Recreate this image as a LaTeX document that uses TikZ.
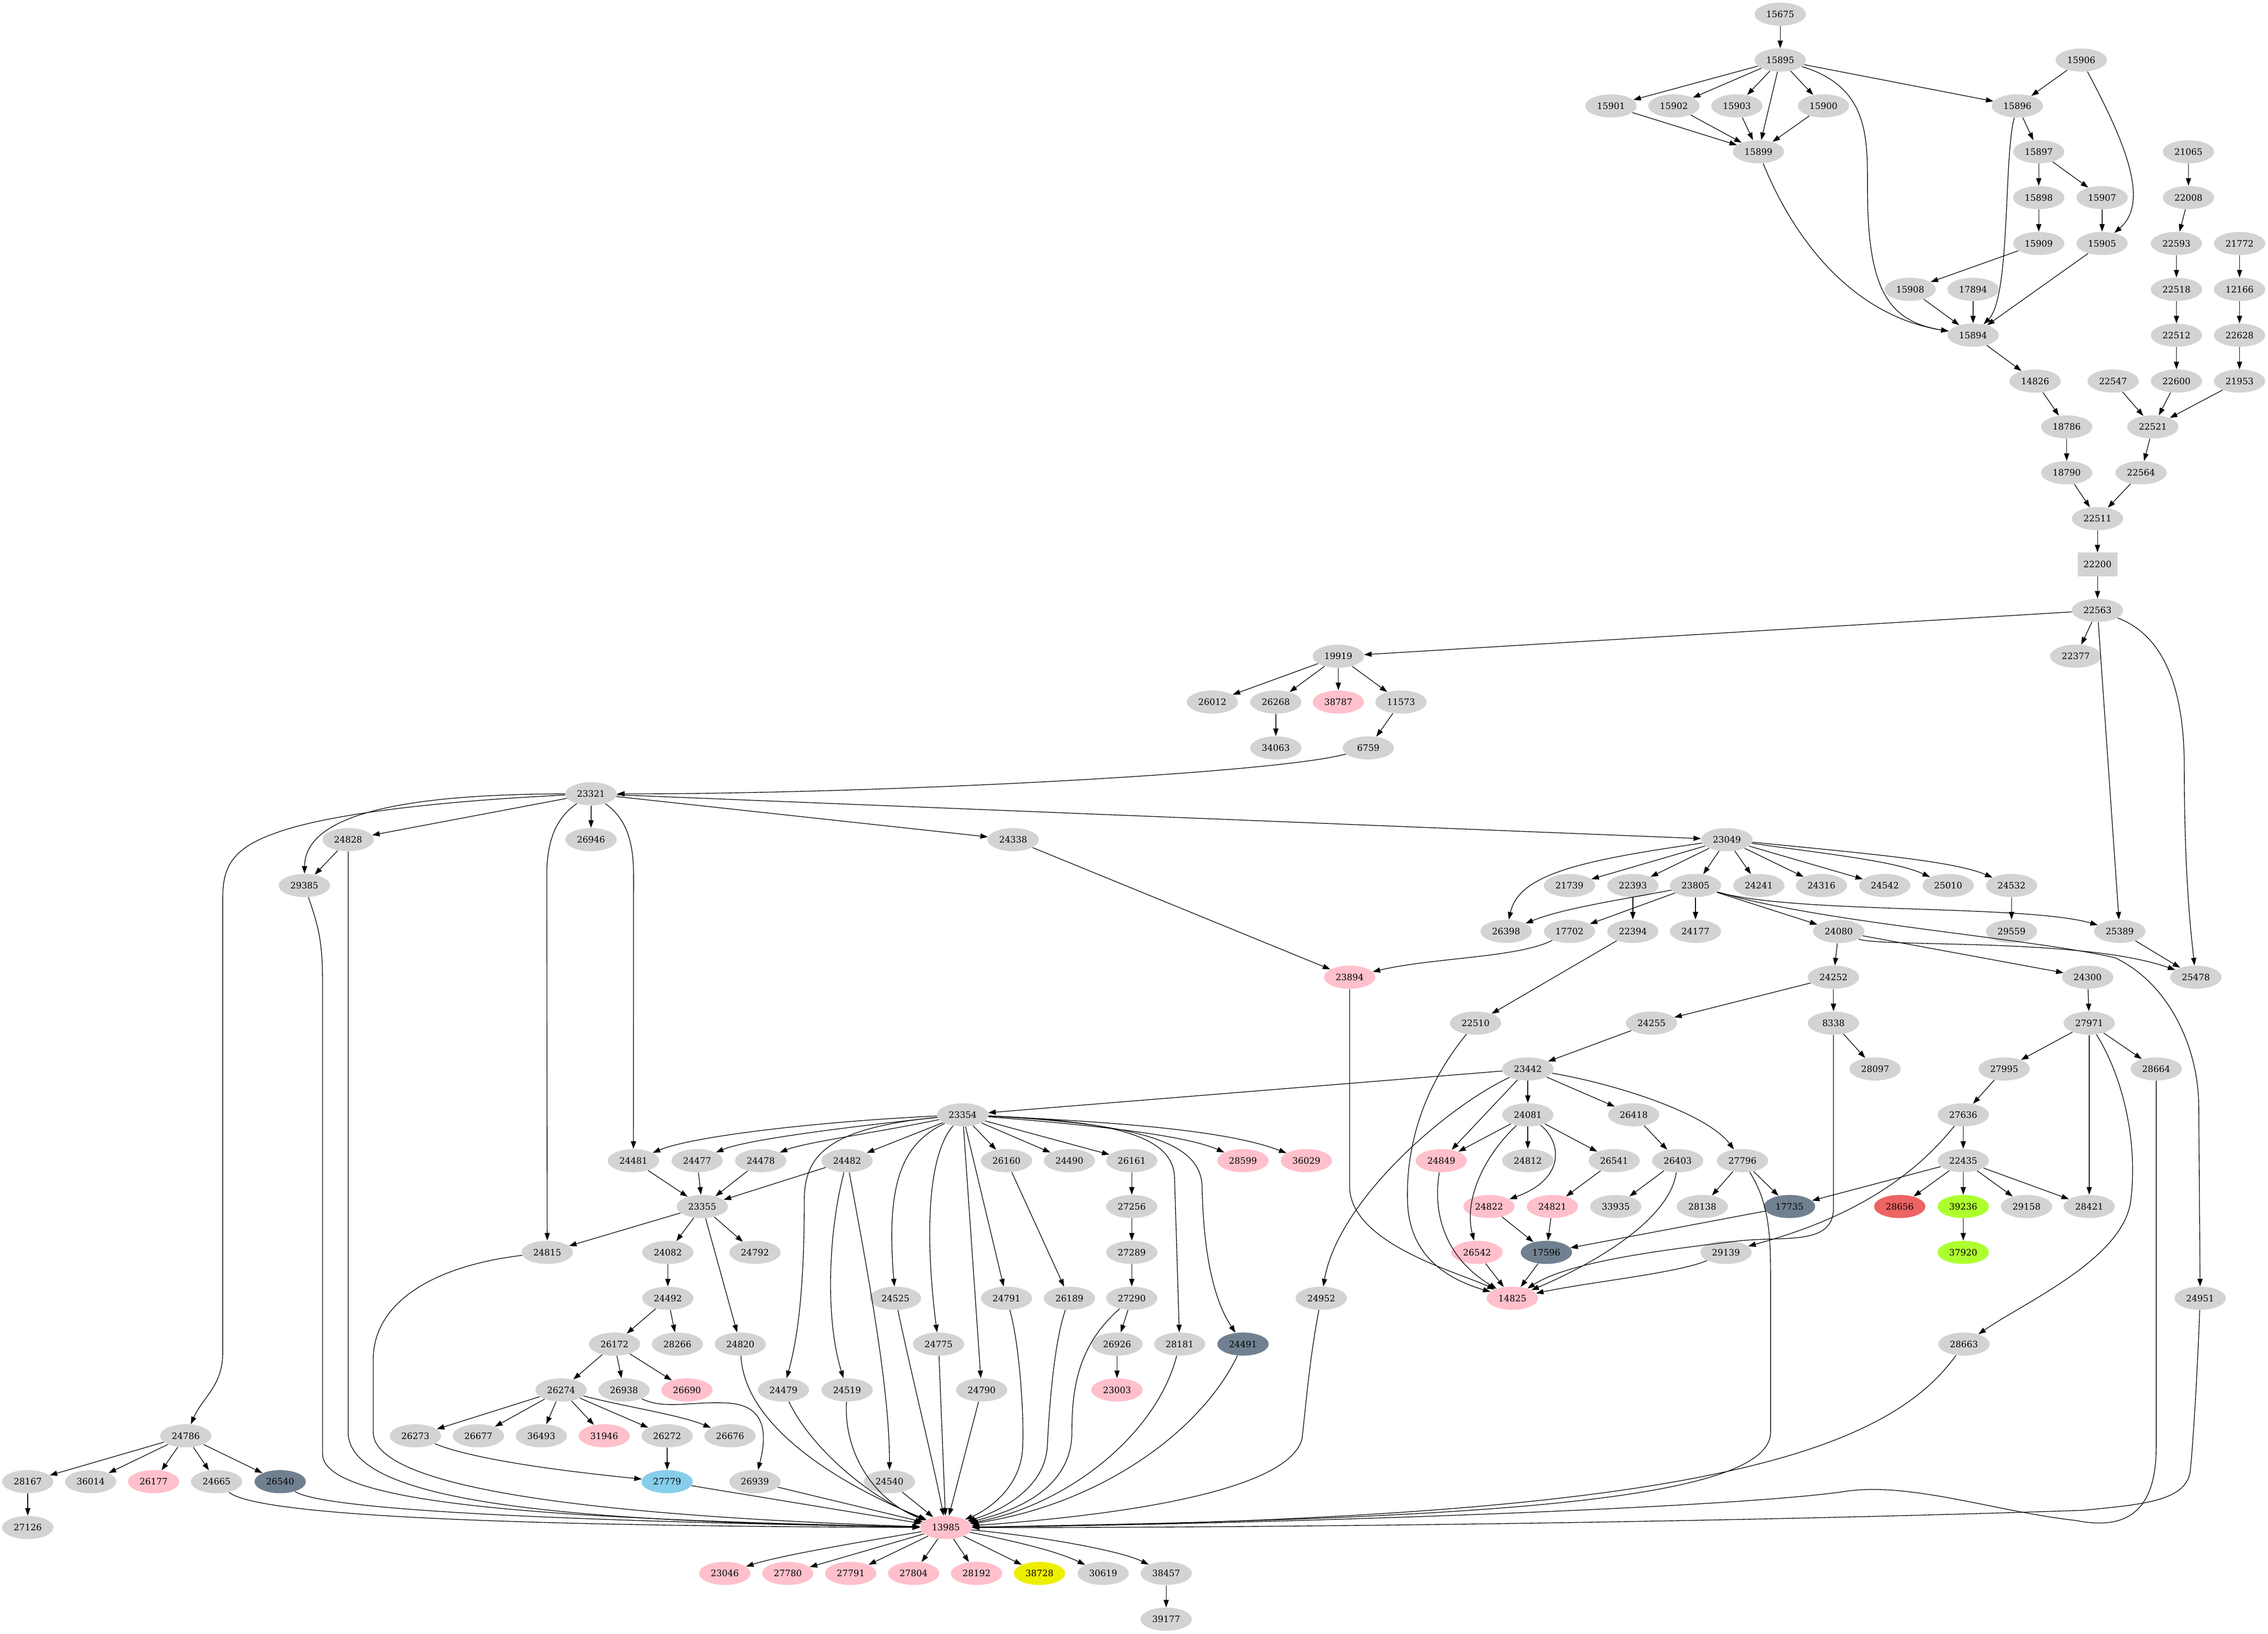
\documentclass[tikz,border=0pt]{standalone}
\usepackage{fontspec}
\setmainfont{DejaVu Serif}
\usetikzlibrary{shapes.geometric,arrows.meta}
\definecolor{gvgray}{HTML}{D3D3D3}
\definecolor{gvpink}{HTML}{FFC0CB}
\definecolor{gvslate}{HTML}{708090}
\definecolor{gvsky}{HTML}{87CEEB}
\definecolor{gvyellow}{HTML}{EEEE00}
\definecolor{gvgreen}{HTML}{ADFF2F}
\definecolor{gvred}{HTML}{EE6363}

\begin{document}
\begin{tikzpicture}[x = 1pt, y = -1pt,
  nd/.style = {ellipse, fill=gvgray, minimum width=35.5pt, minimum height=16pt, inner sep=0pt, font=\fontsize{6.1}{7}\selectfont},
  pk/.style = {nd, fill=gvpink},
  sl/.style = {nd, fill=gvslate},
  sk/.style = {nd, fill=gvsky},
  yl/.style = {nd, fill=gvyellow},
  gr/.style = {nd, fill=gvgreen},
  rd/.style = {nd, fill=gvred},
  bx/.style = {rectangle, fill=gvgray, minimum width=27.3pt, minimum height=16.3pt, inner sep=0pt, font=\fontsize{6.1}{7}\selectfont},
  ed/.style = {-{Triangle[length=5.2pt, width=3.6pt]}, line width=0.45pt}]
\fill[white] (0, 0) rectangle (1567.9, 1129.5);
% top chain
\node[nd] (n15675) at (1230.7, 9.8) {15675};
\node[nd] (n15895) at (1230.7, 41.5) {15895};
\node[nd] (n15906) at (1438.8, 41.5) {15906};
\node[nd] (n15901) at (1113.7, 73.2) {15901};
\node[nd] (n15902) at (1157.2, 73.2) {15902};
\node[nd] (n15903) at (1200.7, 73.2) {15903};
\node[nd] (n15900) at (1260.6, 73.2) {15900};
\node[nd] (n15896) at (1394.6, 73.2) {15896};
\node[nd] (n15899) at (1215.6, 104.9) {15899};
\node[nd] (n15897) at (1409.4, 104.9) {15897};
\node[nd] (n21065) at (1512.9, 104.9) {21065};
\node[nd] (n15898) at (1409.4, 136.6) {15898};
\node[nd] (n15907) at (1453.2, 136.6) {15907};
\node[nd] (n22008) at (1512.9, 136.6) {22008};
\node[nd] (n15909) at (1409.4, 168.3) {15909};
\node[nd] (n15905) at (1453.2, 168.3) {15905};
\node[nd] (n22593) at (1504.6, 168.3) {22593};
\node[nd] (n21772) at (1548.2, 168.3) {21772};
\node[nd] (n15908) at (1320.5, 200.0) {15908};
\node[nd] (n17894) at (1364.0, 200.0) {17894};
\node[nd] (n22518) at (1504.6, 200.0) {22518};
\node[nd] (n12166) at (1548.2, 200.0) {12166};
\node[nd] (n15894) at (1364.0, 231.7) {15894};
\node[nd] (n22512) at (1504.6, 231.7) {22512};
\node[nd] (n22628) at (1548.2, 231.7) {22628};
\node[nd] (n14826) at (1406.9, 263.4) {14826};
\node[nd] (n22547) at (1460.8, 263.4) {22547};
\node[nd] (n22600) at (1504.6, 263.4) {22600};
\node[nd] (n21953) at (1548.2, 263.4) {21953};
\node[nd] (n18786) at (1428.7, 295.1) {18786};
\node[nd] (n22521) at (1488.3, 295.1) {22521};
\node[nd] (n18790) at (1428.7, 326.8) {18790};
\node[nd] (n22564) at (1480.1, 326.8) {22564};
\node[nd] (n22511) at (1450.0, 358.5) {22511};
\node[bx] (n22200) at (1450.0, 390.2) {22200};
\node[nd] (n22563) at (1450.0, 421.9) {22563};
\node[nd] (n19919) at (925.2, 453.6) {19919};
\node[nd] (n22377) at (1435.0, 453.6) {22377};
\node[nd] (n26012) at (838.1, 485.3) {26012};
\node[nd] (n26268) at (882.0, 485.3) {26268};
\node[pk] (n38787) at (925.2, 485.3) {38787};
\node[nd] (n11573) at (968.5, 485.3) {11573};
\node[nd] (n34063) at (882.0, 517.0) {34063};
\node[nd] (n6759) at (945.9, 517.0) {6759};
% middle
\node[nd] (n23321) at (408.6, 548.7) {23321};
\node[nd] (n24828) at (240.7, 580.4) {24828};
\node[nd] (n26946) at (408.6, 580.4) {26946};
\node[nd] (n24338) at (700.4, 580.4) {24338};
\node[nd] (n23049) at (1193.8, 580.4) {23049};
\node[nd] (n29385) at (210.4, 612.1) {29385};
\node[nd] (n21739) at (1085.0, 612.1) {21739};
\node[nd] (n22393) at (1128.8, 612.1) {22393};
\node[nd] (n23805) at (1172.1, 612.1) {23805};
\node[nd] (n24241) at (1215.9, 612.1) {24241};
\node[nd] (n24316) at (1259.2, 612.1) {24316};
\node[nd] (n24542) at (1303.0, 612.1) {24542};
\node[nd] (n25010) at (1346.8, 612.1) {25010};
\node[nd] (n24532) at (1390.6, 612.1) {24532};
\node[nd] (n26398) at (1041.2, 643.8) {26398};
\node[nd] (n17702) at (1085.0, 643.8) {17702};
\node[nd] (n22394) at (1128.8, 643.8) {22394};
\node[nd] (n24177) at (1172.1, 643.8) {24177};
\node[nd] (n24080) at (1271.1, 643.8) {24080};
\node[nd] (n29559) at (1390.6, 643.8) {29559};
\node[nd] (n25389) at (1465.4, 643.8) {25389};
\node[pk] (n23894) at (933.0, 675.5) {23894};
\node[nd] (n24252) at (1267.5, 675.5) {24252};
\node[nd] (n24300) at (1443.2, 675.5) {24300};
\node[nd] (n25478) at (1518.0, 675.5) {25478};
\node[nd] (n22510) at (1020.1, 707.2) {22510};
\node[nd] (n24255) at (1141.7, 707.2) {24255};
\node[nd] (n8338) at (1267.5, 707.2) {8338};
\node[nd] (n27971) at (1444.3, 707.2) {27971};
\node[nd] (n23442) at (1056.2, 738.9) {23442};
\node[nd] (n28097) at (1296.3, 738.9) {28097};
\node[nd] (n27995) at (1385.5, 738.9) {27995};
\node[nd] (n28664) at (1490.6, 738.9) {28664};
\node[nd] (n23354) at (665.5, 770.6) {23354};
\node[nd] (n24081) at (1056.2, 770.6) {24081};
\node[nd] (n26418) at (1129.4, 770.6) {26418};
\node[nd] (n27636) at (1357.2, 770.6) {27636};
\node[nd] (n24481) at (437.9, 802.3) {24481};
\node[nd] (n24477) at (481.9, 802.3) {24477};
\node[nd] (n24478) at (525.9, 802.3) {24478};
\node[nd] (n24482) at (585.6, 802.3) {24482};
\node[nd] (n26160) at (695.8, 802.3) {26160};
\node[nd] (n24490) at (739.3, 802.3) {24490};
\node[nd] (n26161) at (782.4, 802.3) {26161};
\node[pk] (n28599) at (859.3, 802.3) {28599};
\node[pk] (n36029) at (903.1, 802.3) {36029};
\node[pk] (n24849) at (996.4, 802.3) {24849};
\node[nd] (n24812) at (1056.2, 802.3) {24812};
\node[nd] (n26541) at (1115.9, 802.3) {26541};
\node[nd] (n26403) at (1159.8, 802.3) {26403};
\node[nd] (n27796) at (1204.6, 802.3) {27796};
\node[nd] (n22435) at (1357.2, 802.3) {22435};
\node[nd] (n23355) at (485.5, 834.0) {23355};
\node[nd] (n27256) at (782.4, 834.0) {27256};
\node[pk] (n24822) at (1029.4, 834.0) {24822};
\node[pk] (n24821) at (1073.2, 834.0) {24821};
\node[nd] (n33935) at (1117.0, 834.0) {33935};
\node[nd] (n28138) at (1176.8, 834.0) {28138};
\node[sl] (n17735) at (1237.1, 834.0) {17735};
\node[rd] (n28656) at (1313.3, 834.0) {28656};
\node[gr] (n39236) at (1357.2, 834.0) {39236};
\node[nd] (n29158) at (1401.0, 834.0) {29158};
\node[nd] (n28421) at (1444.3, 834.0) {28421};
\node[nd] (n24815) at (378.3, 865.7) {24815};
\node[nd] (n24082) at (461.7, 865.7) {24082};
\node[nd] (n24792) at (521.9, 865.7) {24792};
\node[nd] (n27289) at (782.4, 865.7) {27289};
\node[pk] (n26542) at (1021.1, 865.7) {26542};
\node[sl] (n17596) at (1069.0, 865.7) {17596};
\node[nd] (n29139) at (1193.2, 865.7) {29139};
\node[gr] (n37920) at (1357.2, 865.7) {37920};
% lower part
\node[nd] (n24492) at (461.7, 897.4) {24492};
\node[nd] (n24525) at (619.0, 897.4) {24525};
\node[nd] (n24791) at (695.8, 897.4) {24791};
\node[nd] (n26189) at (739.3, 897.4) {26189};
\node[nd] (n27290) at (782.4, 897.4) {27290};
\node[nd] (n24952) at (913.4, 897.4) {24952};
\node[pk] (n14825) at (1045.5, 897.4) {14825};
\node[nd] (n24951) at (1521.0, 897.4) {24951};
\node[nd] (n26172) at (424.8, 929.1) {26172};
\node[nd] (n28266) at (468.3, 929.1) {28266};
\node[nd] (n24820) at (511.8, 929.1) {24820};
\node[nd] (n24775) at (648.8, 929.1) {24775};
\node[nd] (n26926) at (772.2, 929.1) {26926};
\node[nd] (n28181) at (815.5, 929.1) {28181};
\node[sl] (n24491) at (859.3, 929.1) {24491};
\node[nd] (n28663) at (1357.7, 929.1) {28663};
\node[nd] (n26274) at (387.9, 960.8) {26274};
\node[nd] (n26938) at (431.4, 960.8) {26938};
\node[pk] (n26690) at (474.9, 960.8) {26690};
\node[nd] (n24479) at (541.6, 960.8) {24479};
\node[nd] (n24519) at (585.6, 960.8) {24519};
\node[nd] (n24790) at (678.6, 960.8) {24790};
\node[pk] (n23003) at (772.2, 960.8) {23003};
\node[nd] (n24786) at (128.4, 992.5) {24786};
\node[nd] (n26273) at (287.2, 992.5) {26273};
\node[nd] (n26677) at (330.7, 992.5) {26677};
\node[nd] (n36493) at (374.2, 992.5) {36493};
\node[pk] (n31946) at (417.7, 992.5) {31946};
\node[nd] (n26272) at (461.2, 992.5) {26272};
\node[nd] (n26676) at (504.7, 992.5) {26676};
\node[nd] (n28167) at (19.2, 1024.2) {28167};
\node[nd] (n36014) at (62.7, 1024.2) {36014};
\node[pk] (n26177) at (106.2, 1024.2) {26177};
\node[nd] (n24665) at (149.7, 1024.2) {24665};
\node[sl] (n26540) at (193.7, 1024.2) {26540};
\node[sk] (n27779) at (461.2, 1024.2) {27779};
\node[nd] (n26939) at (521.9, 1024.2) {26939};
\node[nd] (n24540) at (614.9, 1024.2) {24540};
\node[nd] (n27126) at (19.2, 1055.9) {27126};
\node[pk] (n13985) at (653.9, 1055.9) {13985};
\node[pk] (n23046) at (501.1, 1087.6) {23046};
\node[pk] (n27780) at (544.6, 1087.6) {27780};
\node[pk] (n27791) at (588.1, 1087.6) {27791};
\node[pk] (n27804) at (631.6, 1087.6) {27804};
\node[pk] (n28192) at (675.1, 1087.6) {28192};
\node[yl] (n38728) at (718.6, 1087.6) {38728};
\node[nd] (n30619) at (762.6, 1087.6) {30619};
\node[nd] (n38457) at (806.2, 1087.6) {38457};
\node[nd] (n39177) at (806.2, 1119.3) {39177};
% edges, top
\draw[ed] (n15675) -- (n15895);
\draw[ed] (n15895) -- (n15901);
\draw[ed] (n15895) -- (n15902);
\draw[ed] (n15895) -- (n15903);
\draw[ed] (n15895) -- (n15900);
\draw[ed] (n15895) -- (n15899);
\draw[ed] (n15895) -- (n15896);
\draw[ed] (n15895) .. controls (1292, 60) and (1291, 95) .. (1291, 130) .. controls (1291, 200) and (1305, 222) .. (n15894);
\draw[ed] (n15901) -- (n15899);
\draw[ed] (n15902) -- (n15899);
\draw[ed] (n15903) -- (n15899);
\draw[ed] (n15900) -- (n15899);
\draw[ed] (n15899) .. controls (1240, 165) and (1280, 218) .. (n15894);
\draw[ed] (n15906) -- (n15896);
\draw[ed] (n15906) .. controls (1470, 100) and (1486, 140) .. (n15905);
\draw[ed] (n15896) .. controls (1385, 110) and (1390, 205) .. (n15894);
\draw[ed] (n15896) -- (n15897);
\draw[ed] (n15897) -- (n15898);
\draw[ed] (n15897) -- (n15907);
\draw[ed] (n15898) -- (n15909);
\draw[ed] (n15907) -- (n15905);
\draw[ed] (n15909) -- (n15908);
\draw[ed] (n15905) -- (n15894);
\draw[ed] (n15908) -- (n15894);
\draw[ed] (n17894) -- (n15894);
\draw[ed] (n15894) -- (n14826);
\draw[ed] (n14826) -- (n18786);
\draw[ed] (n18786) -- (n18790);
\draw[ed] (n18790) -- (n22511);
\draw[ed] (n21065) -- (n22008);
\draw[ed] (n22008) -- (n22593);
\draw[ed] (n22593) -- (n22518);
\draw[ed] (n22518) -- (n22512);
\draw[ed] (n22512) -- (n22600);
\draw[ed] (n22600) -- (n22521);
\draw[ed] (n21772) -- (n12166);
\draw[ed] (n12166) -- (n22628);
\draw[ed] (n22628) -- (n21953);
\draw[ed] (n21953) -- (n22521);
\draw[ed] (n22547) -- (n22521);
\draw[ed] (n22521) -- (n22564);
\draw[ed] (n22564) -- (n22511);
\draw[ed] (n22511) -- (n22200);
\draw[ed] (n22200) -- (n22563);
\draw[ed] (n22563) -- (n19919);
\draw[ed] (n22563) -- (n22377);
\draw[ed] (n22563) -- (n25389);
\draw[ed] (n22563) .. controls (1498, 440) and (1510, 480) .. (1510, 530) .. controls (1510, 600) and (1514, 640) .. (n25478);
\draw[ed] (n19919) -- (n26012);
\draw[ed] (n19919) -- (n26268);
\draw[ed] (n19919) -- (n38787);
\draw[ed] (n19919) -- (n11573);
\draw[ed] (n26268) -- (n34063);
\draw[ed] (n11573) -- (n6759);
\draw[ed] (n6759) .. controls (880, 535) and (600, 549) .. (n23321);
% edges, 23321 and 23049
\draw[ed] (n23321) .. controls (290, 549) and (211, 560) .. (n29385);
\draw[ed] (n23321) .. controls (300, 554) and (225, 563) .. (190, 576) .. controls (162, 586) and (154, 598) .. (154, 620) -- (154, 935) .. controls (154, 958) and (140, 966) .. (n24786);
\draw[ed] (n23321) -- (n24828);
\draw[ed] (n23321) -- (n26946);
\draw[ed] (n23321) -- (n24338);
\draw[ed] (n23321) -- (n23049);
\draw[ed] (n23321) .. controls (385, 565) and (378, 580) .. (378, 605) -- (n24815);
\draw[ed] (n23321) .. controls (432, 565) and (438, 580) .. (438, 605) -- (n24481);
\draw[ed] (n24828) -- (n29385);
\draw[ed] (n24828) -- (240.7, 990) .. controls (240.7, 1040) and (400, 1052) .. (n13985);
\draw[ed] (n29385) .. controls (220, 640) and (223, 650) .. (223, 680) -- (223, 1005) .. controls (223, 1040) and (380, 1050) .. (n13985);
\draw[ed] (n24338) -- (n23894);
\draw[ed] (n23049) .. controls (1090, 595) and (1050, 605) .. (n26398);
\draw[ed] (n23049) -- (n21739);
\draw[ed] (n23049) -- (n22393);
\draw[ed] (n23049) -- (n23805);
\draw[ed] (n23049) -- (n24241);
\draw[ed] (n23049) -- (n24316);
\draw[ed] (n23049) -- (n24542);
\draw[ed] (n23049) .. controls (1260, 590) and (1310, 595) .. (n25010);
\draw[ed] (n23049) .. controls (1290, 590) and (1350, 595) .. (n24532);
\draw[ed] (n22393) -- (n22394);
\draw[ed] (n24532) -- (n29559);
\draw[ed] (n23805) .. controls (1120, 622) and (1080, 628) .. (n26398);
\draw[ed] (n23805) -- (n17702);
\draw[ed] (n23805) -- (n24177);
\draw[ed] (n23805) -- (n24080);
\draw[ed] (n23805) .. controls (1240, 632) and (1400, 625) .. (n25389);
\draw[ed] (n23805) .. controls (1260, 638) and (1400, 648) .. (1462, 662) .. controls (1500, 680) and (1520, 725) .. (1520, 765) -- (n24951);
\draw[ed] (n24080) -- (n24252);
\draw[ed] (n24080) -- (n24300);
\draw[ed] (n24080) .. controls (1300, 655) and (1440, 648) .. (n25478);
\draw[ed] (n25389) -- (n25478);
\draw[ed] (n17702) .. controls (1050, 662) and (990, 662) .. (n23894);
\draw[ed] (n22394) -- (n22510);
\draw[ed] (n24252) -- (n24255);
\draw[ed] (n24252) -- (n8338);
\draw[ed] (n24300) -- (n27971);
\draw[ed] (n24255) -- (n23442);
\draw[ed] (n8338) -- (n28097);
\draw[ed] (n8338) -- (1267.5, 835) .. controls (1267.5, 862) and (1232, 854) .. (1200, 858) .. controls (1150, 864) and (1085, 872) .. (n14825);
\draw[ed] (n27971) -- (n27995);
\draw[ed] (n27971) -- (n28664);
\draw[ed] (n27971) -- (n28421);
\draw[ed] (n27971) .. controls (1468, 745) and (1478, 790) .. (1473, 830) .. controls (1468, 870) and (1400, 900) .. (n28663);
\draw[ed] (n27995) -- (n27636);
\draw[ed] (n27636) -- (n22435);
\draw[ed] (n27636) .. controls (1310, 830) and (1250, 850) .. (n29139);
\draw[ed] (n28664) -- (1490.6, 1000) .. controls (1490.6, 1045) and (1470, 1058) .. (1435, 1051) .. controls (1380, 1045) and (1320, 1024) .. (1275, 1031) .. controls (1200, 1042) and (900, 1053) .. (n13985);
\draw[ed] (n24951) .. controls (1519, 950) and (1516, 1000) .. (1514, 1018) .. controls (1510, 1038) and (1480, 1040) .. (1440, 1044) .. controls (1200, 1052) and (900, 1056) .. (n13985);
% edges, 23442
\draw[ed] (n23442) -- (n23354);
\draw[ed] (n23442) .. controls (1000, 765) and (925, 830) .. (n24952);
\draw[ed] (n23442) -- (n24849);
\draw[ed] (n23442) -- (n24081);
\draw[ed] (n23442) -- (n26418);
\draw[ed] (n23442) .. controls (1120, 750) and (1180, 770) .. (n27796);
\draw[ed] (n24081) -- (n24849);
\draw[ed] (n24081) -- (n24812);
\draw[ed] (n24081) -- (n26541);
\draw[ed] (n24081) .. controls (1080, 790) and (1082, 815) .. (n24822);
\draw[ed] (n24081) .. controls (1025, 800) and (1012, 830) .. (n26542);
\draw[ed] (n26418) -- (n26403);
\draw[ed] (n26541) -- (n24821);
\draw[ed] (n26403) -- (n33935);
\draw[ed] (n26403) .. controls (1155, 840) and (1110, 870) .. (n14825);
\draw[ed] (n27796) -- (n28138);
\draw[ed] (n27796) -- (n17735);
\draw[ed] (n27796) .. controls (1222, 830) and (1224, 850) .. (1224, 880) -- (1224, 990) .. controls (1224, 1040) and (1000, 1050) .. (n13985);
\draw[ed] (n22435) -- (n17735);
\draw[ed] (n22435) -- (n28656);
\draw[ed] (n22435) -- (n39236);
\draw[ed] (n22435) -- (n29158);
\draw[ed] (n22435) -- (n28421);
\draw[ed] (n39236) -- (n37920);
\draw[ed] (n17735) -- (n17596);
\draw[ed] (n24822) -- (n17596);
\draw[ed] (n24821) -- (n17596);
\draw[ed] (n26542) -- (n14825);
\draw[ed] (n17596) -- (n14825);
\draw[ed] (n29139) .. controls (1160, 880) and (1100, 886) .. (n14825);
\draw[ed] (n24849) .. controls (990, 840) and (1000, 870) .. (n14825);
\draw[ed] (n22510) .. controls (985, 750) and (972, 790) .. (973, 830) .. controls (974, 868) and (1000, 884) .. (n14825);
\draw[ed] (n23894) -- (933, 820) .. controls (933, 860) and (1010, 880) .. (n14825);
\draw[ed] (n24952) .. controls (905, 940) and (902, 980) .. (900, 995) .. controls (890, 1030) and (780, 1047) .. (n13985);
% edges, 23354
\draw[ed] (n23354) .. controls (570, 775) and (480, 785) .. (n24481);
\draw[ed] (n23354) .. controls (585, 779) and (515, 788) .. (n24477);
\draw[ed] (n23354) .. controls (605, 783) and (555, 790) .. (n24478);
\draw[ed] (n23354) -- (n24482);
\draw[ed] (n23354) .. controls (570, 780) and (556, 800) .. (556, 830) .. controls (556, 900) and (550, 930) .. (n24479);
\draw[ed] (n23354) .. controls (625, 790) and (612, 815) .. (n24525);
\draw[ed] (n23354) .. controls (640, 800) and (640, 860) .. (n24775);
\draw[ed] (n23354) -- (n24790);
\draw[ed] (n23354) -- (n24791);
\draw[ed] (n23354) -- (n26160);
\draw[ed] (n23354) -- (n24490);
\draw[ed] (n23354) -- (n26161);
\draw[ed] (n23354) .. controls (770, 775) and (812, 785) .. (812, 815) -- (n28181);
\draw[ed] (n23354) .. controls (790, 777) and (830, 790) .. (831, 820) .. controls (832, 870) and (840, 900) .. (n24491);
\draw[ed] (n23354) .. controls (760, 778) and (820, 785) .. (n28599);
\draw[ed] (n23354) .. controls (780, 776) and (850, 782) .. (n36029);
\draw[ed] (n24481) -- (n23355);
\draw[ed] (n24477) -- (n23355);
\draw[ed] (n24478) -- (n23355);
\draw[ed] (n24482) -- (n23355);
\draw[ed] (n24482) .. controls (573, 850) and (570, 910) .. (n24519);
\draw[ed] (n24482) .. controls (600, 880) and (615, 960) .. (n24540);
\draw[ed] (n23355) -- (n24815);
\draw[ed] (n23355) -- (n24082);
\draw[ed] (n23355) -- (n24792);
\draw[ed] (n23355) -- (n24820);
\draw[ed] (n24082) -- (n24492);
\draw[ed] (n24492) -- (n26172);
\draw[ed] (n24492) -- (n28266);
\draw[ed] (n26172) -- (n26274);
\draw[ed] (n26172) -- (n26938);
\draw[ed] (n26172) -- (n26690);
\draw[ed] (n26274) -- (n26273);
\draw[ed] (n26274) -- (n26677);
\draw[ed] (n26274) -- (n36493);
\draw[ed] (n26274) -- (n31946);
\draw[ed] (n26274) -- (n26272);
\draw[ed] (n26274) .. controls (430, 972) and (470, 978) .. (n26676);
\draw[ed] (n26938) .. controls (460, 975) and (480, 968) .. (505, 970) .. controls (525, 972) and (532, 985) .. (n26939);
\draw[ed] (n26272) -- (n27779);
\draw[ed] (n26273) .. controls (330, 1010) and (400, 1018) .. (n27779);
\draw[ed] (n24786) -- (n28167);
\draw[ed] (n24786) -- (n36014);
\draw[ed] (n24786) -- (n26177);
\draw[ed] (n24786) -- (n24665);
\draw[ed] (n24786) -- (n26540);
\draw[ed] (n28167) -- (n27126);
\draw[ed] (n26160) -- (n26189);
\draw[ed] (n26161) -- (n27256);
\draw[ed] (n27256) -- (n27289);
\draw[ed] (n27289) -- (n27290);
\draw[ed] (n27290) -- (n26926);
\draw[ed] (n26926) -- (n23003);
% edges into 13985
\draw[ed] (n24815) .. controls (300, 875) and (258, 900) .. (258, 940) -- (258, 990) .. controls (258, 1030) and (420, 1048) .. (n13985);
\draw[ed] (n24665) .. controls (180, 1050) and (400, 1055) .. (n13985);
\draw[ed] (n26540) .. controls (225, 1045) and (420, 1052) .. (n13985);
\draw[ed] (n27779) -- (n13985);
\draw[ed] (n26939) -- (n13985);
\draw[ed] (n24540) -- (n13985);
\draw[ed] (n24820) .. controls (515, 990) and (590, 1030) .. (n13985);
\draw[ed] (n24479) .. controls (560, 1000) and (600, 1035) .. (n13985);
\draw[ed] (n24519) .. controls (583, 1010) and (610, 1040) .. (n13985);
\draw[ed] (n24525) .. controls (630, 950) and (645, 1010) .. (n13985);
\draw[ed] (n24775) -- (n13985);
\draw[ed] (n24790) -- (n13985);
\draw[ed] (n24791) .. controls (705, 930) and (708, 980) .. (707, 1000) .. controls (706, 1030) and (680, 1045) .. (n13985);
\draw[ed] (n26189) .. controls (728, 930) and (725, 980) .. (724, 1000) .. controls (722, 1030) and (690, 1045) .. (n13985);
\draw[ed] (n27290) .. controls (745, 930) and (741, 960) .. (741, 990) .. controls (741, 1030) and (700, 1045) .. (n13985);
\draw[ed] (n28181) .. controls (800, 990) and (740, 1040) .. (n13985);
\draw[ed] (n24491) .. controls (830, 990) and (760, 1040) .. (n13985);
\draw[ed] (n28663) .. controls (1300, 1010) and (1150, 1050) .. (n13985);
% edges out of 13985
\draw[ed] (n13985) .. controls (600, 1065) and (540, 1075) .. (n23046);
\draw[ed] (n13985) -- (n27780);
\draw[ed] (n13985) -- (n27791);
\draw[ed] (n13985) -- (n27804);
\draw[ed] (n13985) -- (n28192);
\draw[ed] (n13985) -- (n38728);
\draw[ed] (n13985) .. controls (700, 1065) and (730, 1072) .. (n30619);
\draw[ed] (n13985) .. controls (720, 1062) and (775, 1072) .. (n38457);
\draw[ed] (n38457) -- (n39177);
\end{tikzpicture}
\end{document}
